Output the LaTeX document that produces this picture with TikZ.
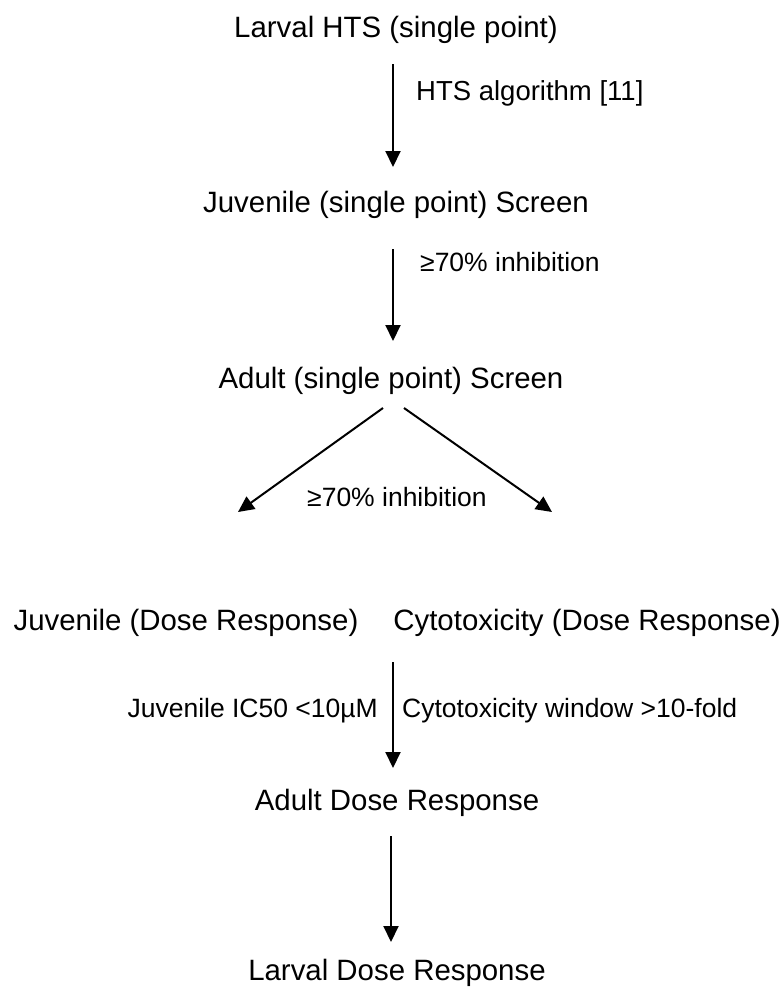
\documentclass[tikz,border=0pt]{standalone}
\usepackage{fontspec}
\setmainfont{Liberation Sans}
\usetikzlibrary{arrows.meta,calc}
\begin{document}
\begin{tikzpicture}[x=1pt,y=-1pt,
  main/.style={font=\fontsize{29.4}{34}\selectfont, inner sep=0pt, anchor=base},
  lab/.style={font=\fontsize{26.5}{31}\selectfont, inner sep=0pt},
  arr/.style={line width=2pt, -{Triangle[width=15pt,length=16pt]}}]
\useasboundingbox (0,0) rectangle (780,997);
\node[main] (n1) at (396,37) {Larval HTS (single point)};
\node[main] (n2) at (396,212) {Juvenile (single point) Screen};
\node[main] (n3) at (391,388) {Adult (single point) Screen};
\node[main] (n4) at (186,630) {Juvenile (Dose Response)};
\node[main] (n5) at (587,630) {Cytotoxicity (Dose Response)};
\node[main] (n6) at (397,810) {Adult Dose Response};
\node[main] (n7) at (397,980) {Larval Dose Response};
\coordinate (ax) at (393,0);
\coordinate (join) at (393,662);
\draw[arr] ($(n1.base -| ax)+(0,27)$) -- ($(n2.base -| ax)+(0,-45)$);
\draw[arr] ($(n2.base -| ax)+(0,37)$) -- ($(n3.base -| ax)+(0,-47)$);
\draw[arr] ([shift={(-8pt,-20pt)}]n3.base) -- ([shift={(52pt,118pt)}]n4.base);
\draw[arr] ([shift={(13pt,-20pt)}]n3.base) -- ([shift={(-35pt,118pt)}]n5.base);
\draw[arr] (join) -- ($(n6.base -| ax)+(0,-42)$);
\draw[arr] ($(n6.base)+(-6,26)$) -- ($(n7.base)+(-6,-38)$);
\node[lab, anchor=base west, font=\fontsize{27.5}{32}\selectfont] (l1) at (416,100) {HTS algorithm [11]};
\node[lab, anchor=base west] (l2) at (420,271) {≥70\% inhibition};
\node[lab, anchor=base] (l3) at (397,506) {≥70\% inhibition};
\node[lab, anchor=base east] (l4) at (378,717) {Juvenile IC50 <10µM};
\node[lab, anchor=base west] (l5) at (402,717) {Cytotoxicity window >10-fold};
\end{tikzpicture}
\end{document}
